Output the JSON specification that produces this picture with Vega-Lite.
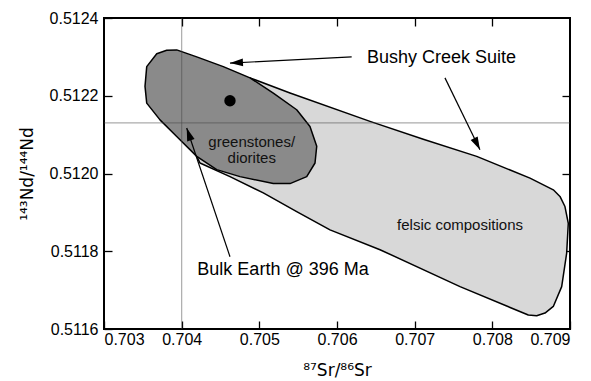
{
  "$schema": "https://vega.github.io/schema/vega-lite/v6.json",
  "width": 466,
  "height": 311,
  "autosize": "none",
  "padding": {"left": 104, "top": 18, "right": 21, "bottom": 52},
  "background": "white",
  "config": {
    "view": {"stroke": "black", "strokeWidth": 2},
    "font": "Liberation Sans",
    "axis": {
      "grid": false, "domain": false, "ticks": true, "tickColor": "black", "tickWidth": 1.3, "tickSize": 8, "offset": -8, "zindex": 1,
      "labelFont": "Liberation Sans", "labelFontSize": 16, "labelColor": "black",
      "titleFont": "DejaVu Sans", "titleFontSize": 17, "titleFontWeight": "normal", "titleColor": "black"
    }
  },
  "datasets": {
    "felsic": [
      {"i": 1, "sr": 0.704194, "nd": 0.512044},
      {"i": 2, "sr": 0.704236, "nd": 0.512027},
      {"i": 3, "sr": 0.704622, "nd": 0.511992},
      {"i": 4, "sr": 0.705051, "nd": 0.511950},
      {"i": 5, "sr": 0.705481, "nd": 0.511902},
      {"i": 6, "sr": 0.705910, "nd": 0.511855},
      {"i": 7, "sr": 0.706554, "nd": 0.511804},
      {"i": 8, "sr": 0.707584, "nd": 0.511709},
      {"i": 9, "sr": 0.708463, "nd": 0.511636},
      {"i": 10, "sr": 0.708571, "nd": 0.511634},
      {"i": 11, "sr": 0.708678, "nd": 0.511641},
      {"i": 12, "sr": 0.708785, "nd": 0.511658},
      {"i": 13, "sr": 0.708893, "nd": 0.511709},
      {"i": 14, "sr": 0.708957, "nd": 0.511795},
      {"i": 15, "sr": 0.708978, "nd": 0.511872},
      {"i": 16, "sr": 0.708935, "nd": 0.511915},
      {"i": 17, "sr": 0.708871, "nd": 0.511941},
      {"i": 18, "sr": 0.708785, "nd": 0.511958},
      {"i": 19, "sr": 0.708485, "nd": 0.511988},
      {"i": 20, "sr": 0.707799, "nd": 0.512044},
      {"i": 21, "sr": 0.707111, "nd": 0.512088},
      {"i": 22, "sr": 0.706425, "nd": 0.512134},
      {"i": 23, "sr": 0.705395, "nd": 0.512207},
      {"i": 24, "sr": 0.704880, "nd": 0.512246},
      {"i": 25, "sr": 0.704622, "nd": 0.512164}
    ],
    "mafic": [
      {"i": 1, "sr": 0.703679, "nd": 0.512308},
      {"i": 2, "sr": 0.703807, "nd": 0.512317},
      {"i": 3, "sr": 0.703936, "nd": 0.512318},
      {"i": 4, "sr": 0.704194, "nd": 0.512300},
      {"i": 5, "sr": 0.704536, "nd": 0.512275},
      {"i": 6, "sr": 0.704880, "nd": 0.512246},
      {"i": 7, "sr": 0.705180, "nd": 0.512207},
      {"i": 8, "sr": 0.705481, "nd": 0.512164},
      {"i": 9, "sr": 0.705652, "nd": 0.512121},
      {"i": 10, "sr": 0.705739, "nd": 0.512070},
      {"i": 11, "sr": 0.705717, "nd": 0.512027},
      {"i": 12, "sr": 0.705610, "nd": 0.511992},
      {"i": 13, "sr": 0.705395, "nd": 0.511974},
      {"i": 14, "sr": 0.705180, "nd": 0.511974},
      {"i": 15, "sr": 0.704751, "nd": 0.511992},
      {"i": 16, "sr": 0.704451, "nd": 0.512010},
      {"i": 17, "sr": 0.704194, "nd": 0.512044},
      {"i": 18, "sr": 0.703936, "nd": 0.512095},
      {"i": 19, "sr": 0.703721, "nd": 0.512138},
      {"i": 20, "sr": 0.703550, "nd": 0.512181},
      {"i": 21, "sr": 0.703528, "nd": 0.512224},
      {"i": 22, "sr": 0.703550, "nd": 0.512275}
    ],
    "arrows": [
      {"id": "a1", "sr": 0.706189, "nd": 0.512300, "sr2": 0.704622, "nd2": 0.512284},
      {"id": "a2", "sr": 0.707390, "nd": 0.512246, "sr2": 0.707841, "nd2": 0.512061},
      {"id": "a3", "sr": 0.704622, "nd": 0.511786, "sr2": 0.704065, "nd2": 0.512117}
    ],
    "labels": [
      {"label": "Bushy Creek Suite", "sr": 0.707345, "nd": 0.512298, "kind": "big"},
      {"label": "Bulk Earth @ 396 Ma", "sr": 0.705305, "nd": 0.511752, "kind": "big"},
      {"label": "greenstones/", "sr": 0.704902, "nd": 0.512081, "kind": "small"},
      {"label": "diorites", "sr": 0.704902, "nd": 0.512040, "kind": "small"},
      {"label": "felsic compositions", "sr": 0.707584, "nd": 0.511868, "kind": "small"}
    ]
  },
  "layer": [
    {
      "data": {"name": "felsic"},
      "mark": {"type": "line", "interpolate": "linear-closed", "filled": true, "fill": "#d8d8d8", "stroke": "black", "strokeWidth": 1.5, "strokeJoin": "round"},
      "encoding": {
        "x": {"field": "sr", "type": "quantitative", "scale": {"domain": [0.703, 0.709], "nice": false, "zero": false},
              "axis": {"orient": "bottom", "values": [0.703, 0.704, 0.705, 0.706, 0.707, 0.708, 0.709], "format": ".3f", "labelPadding": 2, "title": "⁸⁷Sr/⁸⁶Sr", "titlePadding": 15}},
        "y": {"field": "nd", "type": "quantitative", "scale": {"domain": [0.5116, 0.5124], "nice": false, "zero": false},
              "axis": {"orient": "left", "values": [0.5116, 0.5118, 0.512, 0.5122, 0.5124], "format": ".4f", "labelPadding": 6, "title": "¹⁴³Nd/¹⁴⁴Nd", "titlePadding": 13}},
        "order": {"field": "i", "type": "quantitative"}
      }
    },
    {
      "data": {"name": "mafic"},
      "mark": {"type": "line", "interpolate": "linear-closed", "filled": true, "fill": "#8a8a8a", "stroke": "black", "strokeWidth": 1.5, "strokeJoin": "round"},
      "encoding": {
        "x": {"field": "sr", "type": "quantitative",
              "axis": {"orient": "top", "values": [0.704, 0.705, 0.706, 0.707, 0.708], "labels": false, "title": null}},
        "y": {"field": "nd", "type": "quantitative",
              "axis": {"orient": "right", "values": [0.5118, 0.512, 0.5122], "labels": false, "title": null}},
        "order": {"field": "i", "type": "quantitative"}
      }
    },
    {
      "data": {"values": [{"sr": 0.704}]},
      "mark": {"type": "rule", "color": "#444", "opacity": 0.45, "strokeWidth": 1.2},
      "encoding": {"x": {"field": "sr", "type": "quantitative", "axis": null}}
    },
    {
      "data": {"values": [{"nd": 0.51213}]},
      "mark": {"type": "rule", "color": "#444", "opacity": 0.45, "strokeWidth": 1.2},
      "encoding": {"y": {"field": "nd", "type": "quantitative", "axis": null}}
    },
    {
      "data": {"values": [{"sr": 0.704622, "nd": 0.512187}]},
      "mark": {"type": "point", "filled": true, "color": "black", "opacity": 1, "size": 130},
      "encoding": {
        "x": {"field": "sr", "type": "quantitative", "axis": null},
        "y": {"field": "nd", "type": "quantitative", "axis": null}
      }
    },
    {
      "data": {"name": "arrows"},
      "mark": {"type": "rule", "color": "black", "strokeWidth": 1.2},
      "encoding": {
        "x": {"field": "sr", "type": "quantitative", "axis": null},
        "y": {"field": "nd", "type": "quantitative", "axis": null},
        "x2": {"field": "sr2"},
        "y2": {"field": "nd2"}
      }
    },
    {
      "data": {"name": "arrows"},
      "transform": [{"filter": "datum.id === 'a1'"}],
      "mark": {"type": "point", "shape": "M0,0L0.6,2L-0.6,2Z", "filled": true, "color": "black", "opacity": 1, "size": 169, "angle": 267.2},
      "encoding": {
        "x": {"field": "sr2", "type": "quantitative", "axis": null},
        "y": {"field": "nd2", "type": "quantitative", "axis": null}
      }
    },
    {
      "data": {"name": "arrows"},
      "transform": [{"filter": "datum.id === 'a2'"}],
      "mark": {"type": "point", "shape": "M0,0L0.6,2L-0.6,2Z", "filled": true, "color": "black", "opacity": 1, "size": 169, "angle": 153.4},
      "encoding": {
        "x": {"field": "sr2", "type": "quantitative", "axis": null},
        "y": {"field": "nd2", "type": "quantitative", "axis": null}
      }
    },
    {
      "data": {"name": "arrows"},
      "transform": [{"filter": "datum.id === 'a3'"}],
      "mark": {"type": "point", "shape": "M0,0L0.6,2L-0.6,2Z", "filled": true, "color": "black", "opacity": 1, "size": 169, "angle": 341.4},
      "encoding": {
        "x": {"field": "sr2", "type": "quantitative", "axis": null},
        "y": {"field": "nd2", "type": "quantitative", "axis": null}
      }
    },
    {
      "data": {"name": "labels"},
      "transform": [{"filter": "datum.kind === 'big'"}],
      "mark": {"type": "text", "font": "Liberation Sans", "fontSize": 18, "color": "black", "align": "center", "baseline": "middle"},
      "encoding": {
        "x": {"field": "sr", "type": "quantitative", "axis": null},
        "y": {"field": "nd", "type": "quantitative", "axis": null},
        "text": {"field": "label"}
      }
    },
    {
      "data": {"name": "labels"},
      "transform": [{"filter": "datum.kind === 'small'"}],
      "mark": {"type": "text", "font": "Liberation Sans", "fontSize": 15, "color": "#111", "align": "center", "baseline": "middle"},
      "encoding": {
        "x": {"field": "sr", "type": "quantitative", "axis": null},
        "y": {"field": "nd", "type": "quantitative", "axis": null},
        "text": {"field": "label"}
      }
    }
  ],
  "resolve": {"axis": {"x": "independent", "y": "independent"}}
}
